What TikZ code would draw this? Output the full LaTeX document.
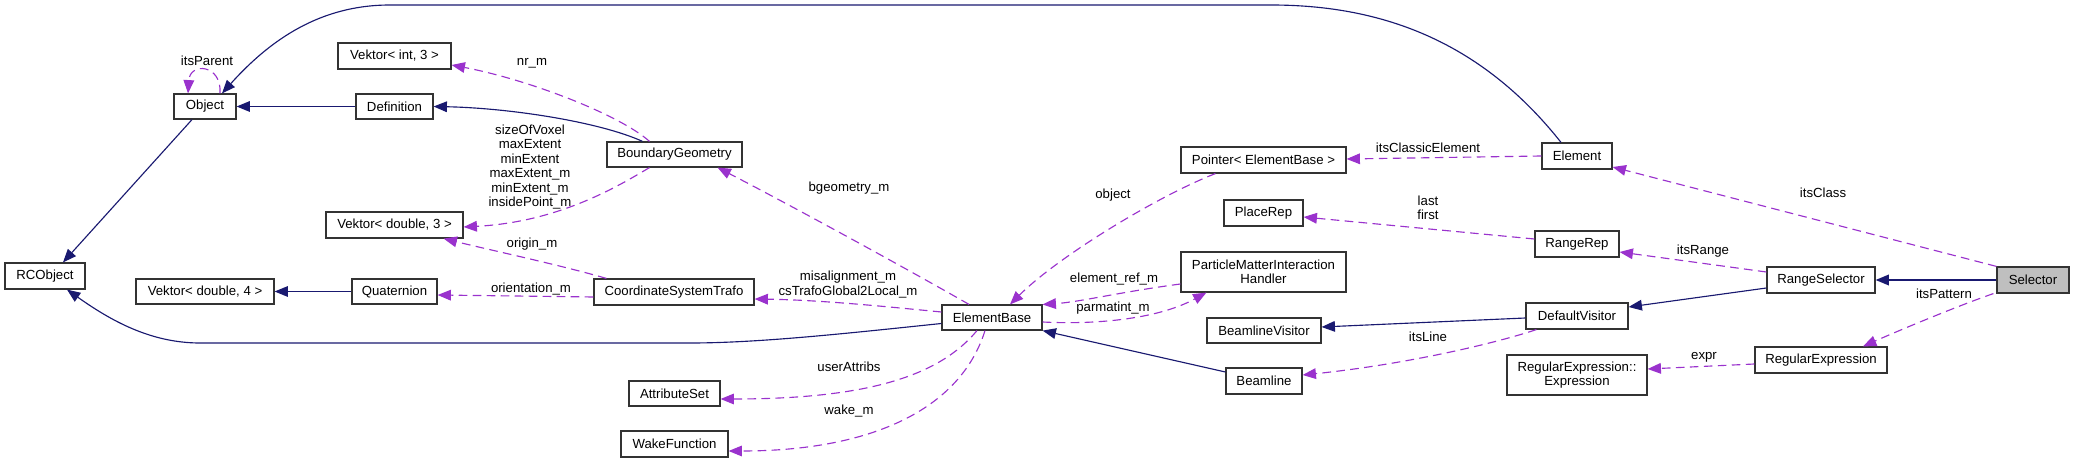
\documentclass[tikz,border=0pt]{standalone}
\usepackage{fontspec}
\setmainfont{Liberation Sans}
\usetikzlibrary{arrows.meta,calc}
\definecolor{navy}{HTML}{191970}
\definecolor{orch}{HTML}{9A32CD}
\definecolor{selgray}{HTML}{BFBFBF}
\tikzset{
  cls/.style={draw=black!80, line width=0.9pt, inner sep=0pt, align=center, font=\fontsize{9.9}{10.9}\selectfont},
  wh/.style 2 args={minimum width=#1*0.75pt, minimum height=#2*0.75pt},
  inh/.style={draw=navy, line width=0.85pt, -{Triangle[length=10pt,width=8pt]}, fill=none},
  use/.style={draw=orch, line width=0.85pt, dash pattern=on 6.5pt off 4pt, -{Triangle[length=10pt,width=8pt]}},
  lbl/.style={inner sep=0pt, align=center, font=\fontsize{9.9}{10.9}\selectfont}
}
\begin{document}
\begin{tikzpicture}[x=0.75pt,y=-0.75pt]
\useasboundingbox (0,0) rectangle (2075,463);
% nodes
\node[cls,wh={62}{25}] (Object) at (205,106.5) {Object};
\node[cls,wh={80}{26}] (RCObject) at (45,276) {RCObject};
\node[cls,wh={113}{26}] (VInt) at (394.5,56) {Vektor< int, 3 >};
\node[cls,wh={77}{25}] (Definition) at (394.5,106.5) {Definition};
\node[cls,wh={137}{26}] (VD3) at (394.5,225) {Vektor< double, 3 >};
\node[cls,wh={138}{25}] (VD4) at (205,291.5) {Vektor< double, 4 >};
\node[cls,wh={85}{25}] (Quat) at (394.5,291.5) {Quaternion};
\node[cls,wh={135}{25}] (BG) at (674.5,154.5) {BoundaryGeometry};
\node[cls,wh={160}{26}] (CST) at (674,292) {CoordinateSystemTrafo};
\node[cls,wh={91}{25}] (AS) at (674.5,393.5) {AttributeSet};
\node[cls,wh={107}{26}] (WF) at (674.5,444) {WakeFunction};
\node[cls,wh={100}{25}] (EB) at (992,317.5) {ElementBase};
\node[cls,wh={165}{26}] (Ptr) at (1263.5,160) {Pointer< ElementBase >};
\node[cls,wh={79}{26}] (PR) at (1263.5,213) {PlaceRep};
\node[cls,wh={165}{40}] (PMIH) at (1263.5,272) {ParticleMatterInteraction\\Handler};
\node[cls,wh={114}{25}] (BV) at (1264,330.5) {BeamlineVisitor};
\node[cls,wh={76}{26}] (BL) at (1264,381) {Beamline};
\node[cls,wh={70}{26}] (El) at (1577,156) {Element};
\node[cls,wh={84}{26}] (RR) at (1577,244) {RangeRep};
\node[cls,wh={102}{26}] (DV) at (1577,316) {DefaultVisitor};
\node[cls,wh={140}{40}] (REE) at (1577,375) {RegularExpression::\\Expression};
\node[cls,wh={108}{26}] (RS) at (1821,280) {RangeSelector};
\node[cls,wh={132}{26}] (RE) at (1821,360) {RegularExpression};
\node[cls,wh={72}{26},fill=selgray] (Sel) at (2033,280) {Selector};
% inheritance
\draw[inh] ($(Object.south)+(-13,0)$) -- ($(RCObject.north)+(18,0)$);
\draw[inh] (Definition.west) -- (Object.east);
\draw[inh] ($(BG.north)+(-32,0)$) .. controls (600,122) and (510,108) .. (Definition.east);
\draw[inh] ($(El.north)+(-16,0)$) .. controls (1480,40) and (1380,5) .. (1271,5) -- (390,5) .. controls (320,5) and (270,40) .. ($(Object.north)+(17,0)$);
\draw[inh] ($(EB.west)+(0,6)$) .. controls (850,333) and (760,343) .. (690,343) -- (200,343) .. controls (150,343) and (110,320) .. ($(RCObject.south)+(22,0)$);
\draw[inh] (Quat.west) -- (VD4.east);
\draw[inh] ($(BL.west)+(0,-9)$) -- (EB.south east);
\draw[inh] ($(DV.west)+(0,2)$) -- ($(BV.east)+(0,-3.5)$);
\draw[inh] ($(RS.west)+(0,8)$) -- ($(DV.east)+(0,-9)$);
\draw[inh, line width=1.2pt] (Sel.west) -- (RS.east);
% usage
\draw[use] ($(Object.north)+(15,0)$) .. controls (222,64) and (190,62) .. ($(Object.north)+(-17,0)$);
\node[lbl] (lParent) at (207,61) {itsParent};
\draw[use] ($(BG.north)+(-25,0)$) .. controls (620,115) and (530,80) .. ($(VInt.east)+(0,9)$);
\node[lbl] (lnr) at (532,63) {nr\_m};
\draw[use] ($(BG.south)+(-25,0)$) .. controls (620,185) and (560,222) .. ($(VD3.east)+(0,2)$);
\node[lbl] (lvox) at (530,167) {sizeOfVoxel\\maxExtent\\minExtent\\maxExtent\_m\\minExtent\_m\\insidePoint\_m};
\draw[use] ($(CST.north west)+(13,0)$) .. controls (560,265) and (490,250) .. ($(VD3.south east)+(-20,0)$);
\node[lbl] (lorig) at (532,244) {origin\_m};
\draw[use] ($(CST.west)+(0,5)$) -- ($(Quat.east)+(0,3.5)$);
\node[lbl] (lorient) at (531,289) {orientation\_m};
\draw[use] ($(EB.north)+(-23,0)$) .. controls (900,265) and (790,205) .. ($(BG.south east)+(-25,0)$);
\node[lbl] (lbg) at (849,188) {bgeometry\_m};
\draw[use] ($(EB.west)+(0,-5.5)$) .. controls (880,306) and (820,300) .. ($(CST.east)+(0,7)$);
\node[lbl] (lmis) at (848,284.5) {misalignment\_m\\csTrafoGlobal2Local\_m};
\draw[use] ($(EB.south)+(-15,0)$) .. controls (940,375) and (870,399) .. ($(AS.east)+(0,5.5)$);
\node[lbl] (lua) at (849,367) {userAttribs};
\draw[use] ($(EB.south)+(-7,0)$) .. controls (960,410) and (870,451) .. ($(WF.east)+(0,7)$);
\node[lbl] (lwake) at (849,411) {wake\_m};
\draw[use] ($(Ptr.south west)+(35,0)$) .. controls (1160,195) and (1060,255) .. ($(EB.north)+(18,0)$);
\node[lbl] (lobj) at (1113,195) {object};
\draw[use] ($(PMIH.west)+(0,12)$) .. controls (1120,292) and (1080,302) .. ($(EB.east)+(0,-13)$);
\node[lbl] (lref) at (1114,279) {element\_ref\_m};
\draw[use] ($(EB.east)+(0,4.5)$) .. controls (1100,325) and (1160,318) .. ($(PMIH.south west)+(26,0)$);
\node[lbl] (lpar) at (1113,308) {parmatint\_m};
\draw[use] (El.west) -- ($(Ptr.east)+(0,-1)$);
\node[lbl] (lcls) at (1428,148) {itsClassicElement};
\draw[use] ($(RR.west)+(0,-5)$) -- ($(PR.east)+(0,4)$);
\node[lbl] (llf) at (1428,208) {last\\first};
\draw[use] ($(DV.south west)+(11,0)$) .. controls (1490,345) and (1400,365) .. ($(BL.east)+(0,-6)$);
\node[lbl] (lline) at (1428,337) {itsLine};
\draw[use] ($(RS.west)+(0,-8)$) -- ($(RR.east)+(0,8)$);
\node[lbl] (lrange) at (1703,251) {itsRange};
\draw[use] (Sel.north west) -- ($(El.east)+(0,11)$);
\node[lbl] (lclass) at (1823,193) {itsClass};
\draw[use] ($(Sel.south west)+(-3,0)$) .. controls (1960,305) and (1900,330) .. ($(RE.north)+(42,0)$);
\node[lbl] (lpat) at (1944,294) {itsPattern};
\draw[use] ($(RE.west)+(0,4)$) -- ($(REE.east)+(0,-6)$);
\node[lbl] (lexpr) at (1704,357) {expr};
\end{tikzpicture}
\end{document}
